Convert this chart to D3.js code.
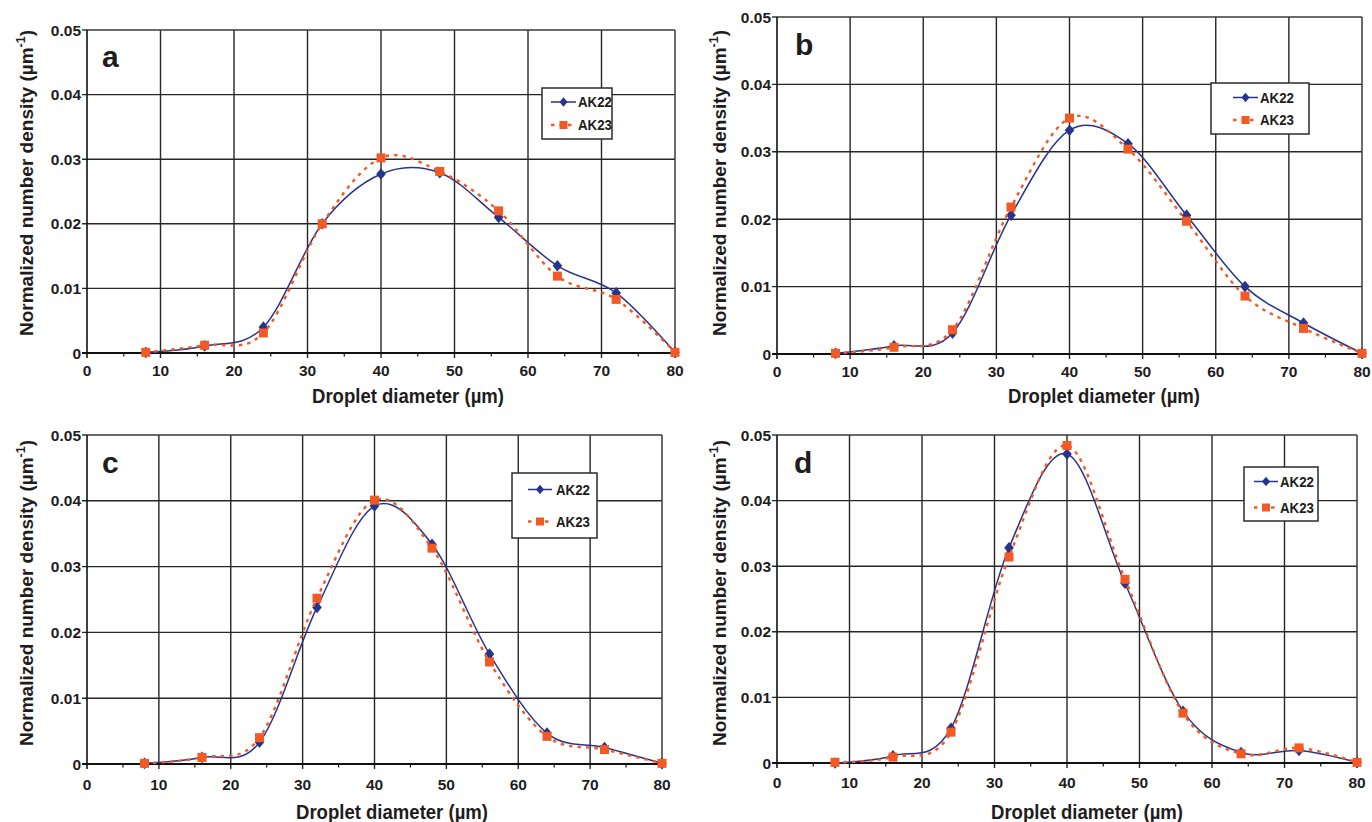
<!DOCTYPE html>
<html>
<head>
<meta charset="utf-8">
<script src="https://cdn.jsdelivr.net/npm/d3@7"></script>
<style>
  html, body { margin: 0; padding: 0; background: #fff; }
  svg { display: block; }
  text { font-family: "Liberation Sans", Arial, sans-serif; font-weight: bold; fill: #1e1c1d; }
</style>
</head>
<body>
<svg id="chart" width="1372" height="822"></svg>
<script>
// Droplet size classes (µm) and axis ticks
const diameters = [8, 16, 24, 32, 40, 48, 56, 64, 72, 80];
const xTicks = [0, 10, 20, 30, 40, 50, 60, 70, 80];
const xMinorTicks = [5, 15, 25, 35, 45, 55, 65, 75];
const yTicks = [0, 0.01, 0.02, 0.03, 0.04, 0.05];
const yTickLabels = ["0", "0.01", "0.02", "0.03", "0.04", "0.05"];
const seriesNames = ["AK22", "AK23"];
const panelLetters = ["a", "b", "c", "d"];

// Normalized number density per panel
const ak22A = [0.0001, 0.0011, 0.0040, 0.0200, 0.0277, 0.0279, 0.0210, 0.0135, 0.0093, 0.0001];
const ak23A = [0.0001, 0.0012, 0.0031, 0.0200, 0.0302, 0.0281, 0.0220, 0.0119, 0.0083, 0.0001];
const ak22B = [0.0001, 0.0012, 0.0031, 0.0206, 0.0332, 0.0312, 0.0206, 0.0100, 0.0046, 0.0001];
const ak23B = [0.0001, 0.0010, 0.0036, 0.0218, 0.0350, 0.0304, 0.0197, 0.0086, 0.0038, 0.0001];
const ak22C = [0.0001, 0.0010, 0.0033, 0.0238, 0.0392, 0.0334, 0.0167, 0.0047, 0.0025, 0.0001];
const ak23C = [0.0001, 0.0010, 0.0040, 0.0252, 0.0401, 0.0328, 0.0155, 0.0042, 0.0022, 0.0001];
const ak22D = [0.0000, 0.0011, 0.0053, 0.0328, 0.0471, 0.0274, 0.0079, 0.0016, 0.0019, 0.0001];
const ak23D = [0.0001, 0.0009, 0.0047, 0.0314, 0.0484, 0.0280, 0.0076, 0.0014, 0.0023, 0.0001];

const xTitle = "Droplet diameter (µm)";

// Panel placement on the page
const layouts = [
  { left: 87, right: 675, top: 30, bottom: 353, letter: [102, 67], tickBase: 376, xTitleX: 408, xTitleY: 403,
    yTitleX: 33, yTitleY: 183, legend: { x: 542, y: 88, w: 70, h: 51, r1: 102, r2: 125, l0: 551, l1: 576, tx: 578 } },
  { left: 777, right: 1362, top: 17, bottom: 354, letter: [795, 55], tickBase: 377, xTitleX: 1104, xTitleY: 403,
    yTitleX: 726, yTitleY: 183, legend: { x: 1211, y: 83, w: 98, h: 51, r1: 97.5, r2: 120, l0: 1233, l1: 1258, tx: 1260 } },
  { left: 87, right: 662, top: 435, bottom: 764, letter: [102, 473], tickBase: 790, xTitleX: 392, xTitleY: 819,
    yTitleX: 33, yTitleY: 593, legend: { x: 512, y: 473, w: 85, h: 65, r1: 489.5, r2: 521.5, l0: 528, l1: 552, tx: 556 } },
  { left: 777, right: 1357, top: 435, bottom: 763, letter: [794, 473], tickBase: 788, xTitleX: 1087, xTitleY: 819,
    yTitleX: 726, yTitleY: 593, legend: { x: 1244, y: 467, w: 74, h: 54, r1: 481.5, r2: 507.5, l0: 1254, l1: 1278, tx: 1280 } }
];

const panelSeries = [[ak22A, ak23A], [ak22B, ak23B], [ak22C, ak23C], [ak22D, ak23D]];

const blue = "#27348b";
const orange = "#f15a24";
const gridColor = "#262626";

const svg = d3.select("#chart");

function diamondPath(cx, cy, hw, hh) {
  return `M${cx},${cy - hh}L${cx + hw},${cy}L${cx},${cy + hh}L${cx - hw},${cy}Z`;
}

function drawPanel(i) {
  const L = layouts[i];
  const [s1, s2] = panelSeries[i];
  const x = d3.scaleLinear().domain([0, 80]).range([L.left, L.right]);
  const y = d3.scaleLinear().domain([0, 0.05]).range([L.bottom, L.top]);
  const g = svg.append("g");

  // grid
  g.selectAll(".vg").data(xTicks.slice(1, -1)).join("line")
    .attr("x1", d => x(d)).attr("x2", d => x(d)).attr("y1", L.top).attr("y2", L.bottom + 5)
    .attr("stroke", gridColor).attr("stroke-width", 1.4);
  g.selectAll(".hg").data(yTicks.slice(1, -1)).join("line")
    .attr("x1", L.left - 5).attr("x2", L.right).attr("y1", d => y(d)).attr("y2", d => y(d))
    .attr("stroke", gridColor).attr("stroke-width", 1.4);
  // frame
  g.append("line").attr("x1", L.left - 5).attr("x2", L.right).attr("y1", L.top).attr("y2", L.top)
    .attr("stroke", "#3a3a3a").attr("stroke-width", 1.5);
  g.append("line").attr("x1", L.right).attr("x2", L.right).attr("y1", L.top).attr("y2", L.bottom + 5)
    .attr("stroke", "#3a3a3a").attr("stroke-width", 1.5);
  // axes
  g.append("line").attr("x1", L.left).attr("x2", L.left).attr("y1", L.top).attr("y2", L.bottom + 5)
    .attr("stroke", "#111").attr("stroke-width", 1.6);
  g.append("line").attr("x1", L.left - 5).attr("x2", L.right).attr("y1", L.bottom).attr("y2", L.bottom)
    .attr("stroke", "#111").attr("stroke-width", 2);
  g.selectAll(".mt").data(xMinorTicks).join("line")
    .attr("x1", d => x(d)).attr("x2", d => x(d)).attr("y1", L.bottom).attr("y2", L.bottom + 3.5)
    .attr("stroke", "#111").attr("stroke-width", 1.2);

  // tick labels
  g.selectAll(".xl").data(xTicks).join("text")
    .attr("x", d => x(d)).attr("y", L.tickBase).attr("text-anchor", "middle")
    .attr("font-size", 15.5).text(d => d);
  g.selectAll(".yl").data(yTicks).join("text")
    .attr("x", L.left - 6).attr("y", d => y(d) + 5.5).attr("text-anchor", "end")
    .attr("font-size", 15.5).text((d, k) => yTickLabels[k]);

  // axis titles
  g.append("text").attr("x", L.xTitleX).attr("y", L.xTitleY).attr("text-anchor", "middle")
    .attr("font-size", 19.5).attr("textLength", 192).attr("lengthAdjust", "spacingAndGlyphs").text(xTitle);
  const yt = g.append("text").attr("text-anchor", "middle").attr("font-size", 19)
    .attr("transform", `translate(${L.yTitleX},${L.yTitleY}) rotate(-90)`);
  yt.append("tspan").text("Normalized number density (µm");
  yt.append("tspan").attr("font-size", 12.5).attr("dy", -8).text("-1");
  yt.append("tspan").attr("dy", 8).text(")");

  // panel letter
  g.append("text").attr("x", L.letter[0]).attr("y", L.letter[1]).attr("font-size", 30).text(panelLetters[i]);

  // curves
  const line = d3.line().x((d, k) => x(diameters[k])).y(d => y(d)).curve(d3.curveCatmullRom.alpha(0));
  g.append("path").attr("d", line(s1)).attr("fill", "none").attr("stroke", blue).attr("stroke-width", 1.5);
  g.selectAll(".dm").data(s1).join("path")
    .attr("d", (d, k) => diamondPath(x(diameters[k]), y(d), 4.8, 5.8)).attr("fill", blue);
  g.append("path").attr("d", line(s2)).attr("fill", "none").attr("stroke", orange).attr("stroke-width", 2.4)
    .attr("stroke-dasharray", "3.5,5");
  g.selectAll(".sq").data(s2).join("rect")
    .attr("x", (d, k) => x(diameters[k]) - 4.5).attr("y", d => y(d) - 4.5)
    .attr("width", 9).attr("height", 9).attr("fill", orange);

  // legend
  const lg = L.legend;
  g.append("rect").attr("x", lg.x).attr("y", lg.y).attr("width", lg.w).attr("height", lg.h)
    .attr("fill", "#fff").attr("stroke", "#2b2b2b").attr("stroke-width", 1.5);
  const mid = (lg.l0 + lg.l1) / 2;
  g.append("line").attr("x1", lg.l0).attr("x2", lg.l1).attr("y1", lg.r1).attr("y2", lg.r1)
    .attr("stroke", blue).attr("stroke-width", 1.5);
  g.append("path").attr("d", diamondPath(mid, lg.r1, 4, 4.8)).attr("fill", blue);
  g.append("line").attr("x1", lg.l0).attr("x2", lg.l1).attr("y1", lg.r2).attr("y2", lg.r2)
    .attr("stroke", orange).attr("stroke-width", 2.4).attr("stroke-dasharray", "3.5,5");
  g.append("rect").attr("x", mid - 4).attr("y", lg.r2 - 4).attr("width", 8).attr("height", 8).attr("fill", orange);
  g.append("text").attr("x", lg.tx).attr("y", lg.r1 + 5).attr("font-size", 14.5)
    .attr("textLength", 34).attr("lengthAdjust", "spacingAndGlyphs").text(seriesNames[0]);
  g.append("text").attr("x", lg.tx).attr("y", lg.r2 + 5).attr("font-size", 14.5)
    .attr("textLength", 34).attr("lengthAdjust", "spacingAndGlyphs").text(seriesNames[1]);
}

for (let i = 0; i < 4; i++) drawPanel(i);
</script>
</body>
</html>
